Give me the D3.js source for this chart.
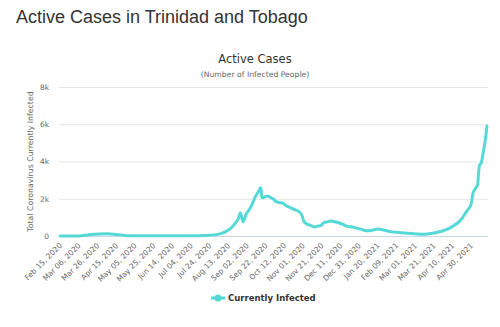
<!DOCTYPE html>
<html><head><meta charset="utf-8">
<script src="https://cdn.jsdelivr.net/npm/d3@7"></script>
<style>body{margin:0;background:#fff}svg{display:block}</style>
</head><body>
<svg id="c" width="500" height="327"></svg>
<script>
const dates = ["2020-02-15","2020-02-25","2020-03-06","2020-03-14","2020-03-21","2020-03-28","2020-04-05","2020-04-13","2020-04-20","2020-04-27","2020-05-05","2020-05-25","2020-06-14","2020-07-04","2020-07-19","2020-07-29","2020-08-05","2020-08-11","2020-08-16","2020-08-20","2020-08-24","2020-08-26","2020-08-28","2020-08-29","2020-09-01","2020-09-05","2020-09-08","2020-09-11","2020-09-14","2020-09-17","2020-09-18","2020-09-21","2020-09-24","2020-09-27","2020-09-30","2020-10-03","2020-10-07","2020-10-11","2020-10-14","2020-10-17","2020-10-20","2020-10-24","2020-10-28","2020-10-31","2020-11-02","2020-11-05","2020-11-08","2020-11-11","2020-11-13","2020-11-16","2020-11-20","2020-11-23","2020-11-27","2020-12-01","2020-12-05","2020-12-10","2020-12-14","2020-12-17","2020-12-21","2020-12-24","2020-12-28","2021-01-02","2021-01-06","2021-01-10","2021-01-15","2021-01-20","2021-01-25","2021-01-30","2021-02-03","2021-02-09","2021-02-17","2021-02-24","2021-03-03","2021-03-11","2021-03-18","2021-03-25","2021-03-31","2021-04-04","2021-04-08","2021-04-12","2021-04-17","2021-04-21","2021-04-24","2021-04-27","2021-04-30","2021-05-02","2021-05-04","2021-05-07","2021-05-08","2021-05-09","2021-05-11","2021-05-13","2021-05-15","2021-05-17"];
const activeCases = [0,2,5,40,90,110,115,100,60,20,10,8,10,15,30,60,130,250,420,650,950,1230,900,760,1150,1450,1750,2100,2350,2600,2050,2100,2150,2080,2000,1850,1800,1750,1620,1560,1480,1400,1300,1100,780,650,590,530,480,520,560,700,760,800,760,700,620,540,500,480,430,370,300,280,320,370,340,280,230,200,160,130,110,100,130,200,280,350,450,580,760,1000,1230,1450,1700,2300,2500,2750,3400,3800,3950,4500,5100,5900];
const xTickLabels = ["Feb 15, 2020","Mar 06, 2020","Mar 26, 2020","Apr 15, 2020","May 05, 2020","May 25, 2020","Jun 14, 2020","Jul 04, 2020","Jul 24, 2020","Aug 13, 2020","Sep 02, 2020","Sep 22, 2020","Oct 12, 2020","Nov 01, 2020","Nov 21, 2020","Dec 11, 2020","Dec 31, 2020","Jan 20, 2021","Feb 09, 2021","Mar 01, 2021","Mar 21, 2021","Apr 10, 2021","Apr 30, 2021"];
const yTicks = [0,2000,4000,6000,8000];
const yTickLabels = ["0","2k","4k","6k","8k"];
const seriesName = "Currently Infected";

const parse = d3.timeParse("%Y-%m-%d");
const parseTick = d3.timeParse("%b %d, %Y");
const data = dates.map((d,i)=>({date:parse(d), v:activeCases[i]}));
const tickDates = xTickLabels.map(parseTick);

const svg = d3.select("#c");
const L=59, R=488, T=87, B=236;
const color = "#55d9d6";
const x = d3.scaleTime().domain([parse("2020-02-15"), parse("2021-05-17")]).range([L+1, R-1]);
const y = d3.scaleLinear().domain([0,8000]).range([B,T]);

svg.append("text").attr("x",16).attr("y",23).attr("font-family","Liberation Sans, Arial, sans-serif")
  .attr("font-size",18).attr("fill","#333").text("Active Cases in Trinidad and Tobago");
svg.append("text").attr("x",255).attr("y",63).attr("text-anchor","middle").attr("font-family","DejaVu Sans, sans-serif")
  .attr("font-size",11.5).attr("fill","#333").text("Active Cases");
svg.append("text").attr("x",255).attr("y",77).attr("text-anchor","middle").attr("font-family","DejaVu Sans, sans-serif")
  .attr("font-size",7.7).attr("fill","#666").text("(Number of Infected People)");

// grid
const yAxis = d3.axisLeft(y).tickValues(yTicks).tickFormat((d,i)=>yTickLabels[i]).tickSize(-(R-L)).tickPadding(10);
const gy = svg.append("g").attr("transform",`translate(${L},0)`).call(yAxis);
gy.select(".domain").remove();
gy.selectAll(".tick line").attr("stroke","#e6e6e6");
gy.selectAll(".tick text").attr("font-family","DejaVu Sans, sans-serif").attr("font-size",7.5).attr("fill","#666");

svg.append("text").attr("transform",`translate(33,${(T+B)/2}) rotate(-90)`).attr("text-anchor","middle")
  .attr("font-family","DejaVu Sans, sans-serif").attr("font-size",7.8).attr("fill","#666")
  .text("Total Coronavirus Currently Infected");

// x axis
const xAxis = d3.axisBottom(x).tickValues(tickDates).tickFormat((d,i)=>xTickLabels[i]).tickSize(0);
const gx = svg.append("g").attr("transform",`translate(0,${B})`).call(xAxis);
gx.select(".domain").attr("stroke","#ccd6eb").attr("d",`M${L},0.5H${R}`);
gx.selectAll(".tick text").attr("font-family","DejaVu Sans, sans-serif").attr("font-size",7.5).attr("fill","#666")
  .attr("text-anchor","end").attr("dy",0).attr("transform","translate(2,10) rotate(-45)").attr("y",0);

// line
const line = d3.line().x(d=>x(d.date)).y(d=>y(d.v)).curve(d3.curveMonotoneX);
svg.append("path").datum(data).attr("d",line).attr("fill","none").attr("stroke",color)
  .attr("stroke-width",3).attr("stroke-linejoin","round").attr("stroke-linecap","round");

// legend
const lg = svg.append("g");
lg.append("line").attr("x1",211).attr("x2",225).attr("y1",298).attr("y2",298).attr("stroke",color).attr("stroke-width",3);
lg.append("circle").attr("cx",218).attr("cy",298).attr("r",3.5).attr("fill",color);
lg.append("text").attr("x",228).attr("y",301).attr("font-family","DejaVu Sans, sans-serif").attr("font-size",8.5)
  .attr("font-weight","bold").attr("fill","#333").text(seriesName);
</script>
</body></html>
